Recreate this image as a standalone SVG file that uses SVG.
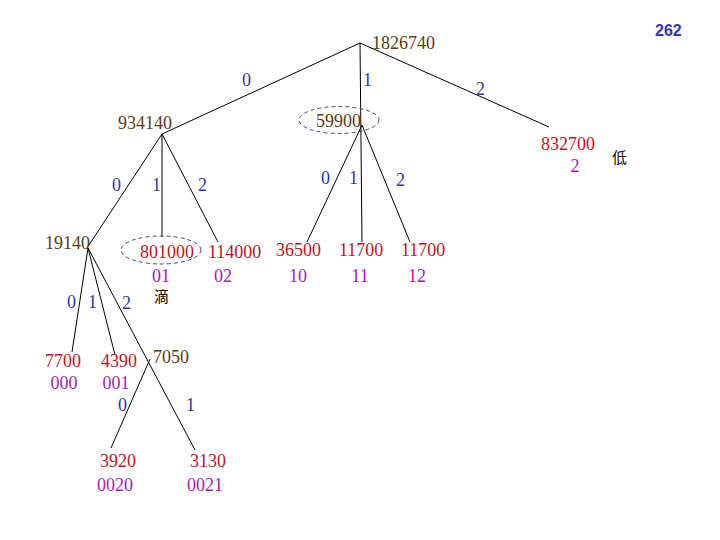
<svg xmlns="http://www.w3.org/2000/svg" width="720" height="540" viewBox="0 0 720 540">
<style>
text{font-family:"Liberation Serif","Times New Roman",serif;font-size:18px}
.n{fill:#5a3c14}
.l{fill:#c0141e}
.c{fill:#a01eb4;text-anchor:middle}
.e{fill:#3434a0}
.k{fill:#000;font-family:"Noto Sans CJK SC",sans-serif;font-size:15px}
.pg{font-family:"Liberation Sans",Arial,sans-serif;font-weight:bold;font-size:16px;fill:#3434c0}
line{stroke:#000;stroke-width:1}
ellipse{fill:none;stroke:#3a4a80;stroke-width:1;stroke-dasharray:4 3}
</style>
<text class="pg" x="655" y="36">262</text>
<g id="connectors">
<line x1="360" y1="43" x2="162" y2="134"/>
<line x1="360" y1="43" x2="362" y2="242"/>
<line x1="360" y1="43" x2="549" y2="127"/>
<line x1="162" y1="134" x2="87" y2="248"/>
<line x1="162" y1="134" x2="162" y2="237"/>
<line x1="162" y1="134" x2="218" y2="242"/>
<line x1="362" y1="125" x2="307" y2="242"/>
<line x1="362" y1="125" x2="410" y2="242"/>
<line x1="88" y1="248" x2="72" y2="352"/>
<line x1="88" y1="248" x2="115" y2="355"/>
<line x1="88" y1="248" x2="195" y2="450"/>
<line x1="150" y1="359" x2="111" y2="448"/>
</g>
<g id="edge-labels">
<text class="e" x="242" y="86">0</text>
<text class="e" x="363" y="86">1</text>
<text class="e" x="476" y="95">2</text>
<text class="e" x="112" y="191">0</text>
<text class="e" x="152" y="191">1</text>
<text class="e" x="198" y="191">2</text>
<text class="e" x="321" y="184">0</text>
<text class="e" x="349" y="184">1</text>
<text class="e" x="396" y="186">2</text>
<text class="e" x="67" y="308">0</text>
<text class="e" x="88" y="308">1</text>
<text class="e" x="122" y="309">2</text>
<text class="e" x="118" y="411">0</text>
<text class="e" x="186" y="411">1</text>
</g>
<g id="n1826740"><text class="n" x="372" y="49">1826740</text></g>
<g id="n934140"><text class="n" x="118" y="129">934140</text></g>
<g id="n59900"><ellipse cx="339" cy="120" rx="40" ry="13.5"/><text class="n" x="316" y="127">59900</text></g>
<g id="n832700"><text class="l" x="541" y="150">832700</text><text class="c" x="575" y="172">2</text><text class="k" x="612" y="163">低</text></g>
<g id="n19140"><text class="n" x="45" y="249">19140</text></g>
<g id="n801000"><ellipse cx="161" cy="250" rx="40" ry="14"/><text class="l" x="140" y="258">801000</text><text class="c" x="161" y="282">01</text><text class="k" x="154" y="302">滴</text></g>
<g id="n114000"><text class="l" x="208" y="258">114000</text><text class="c" x="223" y="282">02</text></g>
<g id="n36500"><text class="l" x="276" y="256">36500</text><text class="c" x="298" y="282">10</text></g>
<g id="n11700a"><text class="l" x="339" y="256">11700</text><text class="c" x="360" y="282">11</text></g>
<g id="n11700b"><text class="l" x="401" y="256">11700</text><text class="c" x="417" y="282">12</text></g>
<g id="n7700"><text class="l" x="45" y="367">7700</text><text class="c" x="64" y="389">000</text></g>
<g id="n4390"><text class="l" x="101" y="367">4390</text><text class="c" x="116" y="389">001</text></g>
<g id="n7050"><text class="n" x="153" y="363">7050</text></g>
<g id="n3920"><text class="l" x="100" y="467">3920</text><text class="c" x="115" y="491">0020</text></g>
<g id="n3130"><text class="l" x="190" y="467">3130</text><text class="c" x="205" y="491">0021</text></g>
</svg>
